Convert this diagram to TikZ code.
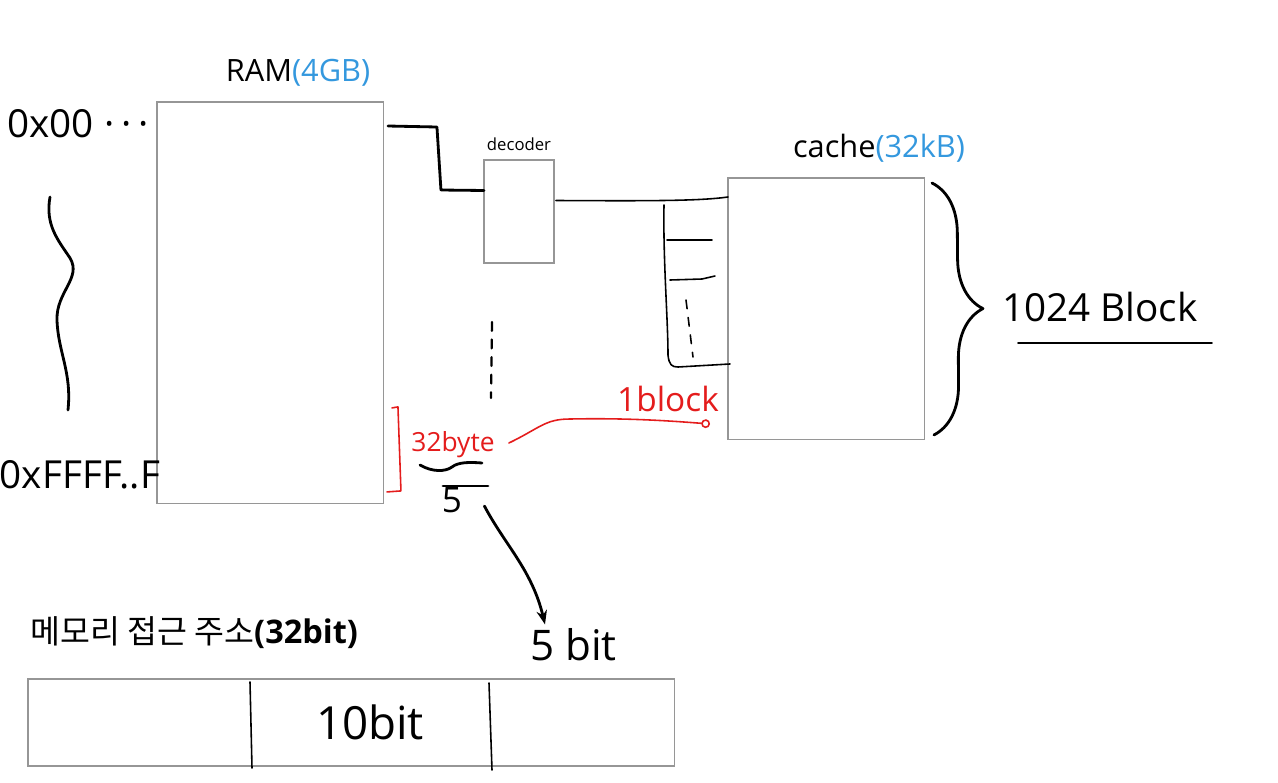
\documentclass[tikz,border=0pt]{standalone}
\usepackage{fontspec}
\setmainfont{Open Sans}
\newfontfamily\krfont{Noto Sans CJK KR}
\usetikzlibrary{positioning,decorations.pathreplacing,arrows.meta}
\definecolor{inkblue}{RGB}{52,152,222}
\definecolor{inkred}{RGB}{228,28,28}
\definecolor{boxgray}{RGB}{150,150,150}

\begin{document}
\begin{tikzpicture}[x=0.02cm,y=-0.02cm,
    box/.style={rectangle,draw=boxgray,line width=.6pt,inner sep=0pt,outer sep=0pt,anchor=north west},
    pen/.style={line width=1.6pt,line cap=round,line join=round},
    thinpen/.style={line width=.9pt,line cap=round,line join=round},
    redpen/.style={inkred,line width=.9pt,line cap=round,line join=round},
    hand/.style={inner sep=0pt,font=\fontsize{#1}{#1}\selectfont},
    boxtitle/.style={inner sep=0pt,font=\fontsize{17.5}{20}\selectfont}]
  \useasboundingbox (0,0) rectangle (1278,782);
  \node[box,minimum width=4.54cm,minimum height=8.04cm] (ram) at (157,102) {};
  \node[boxtitle] (ramlbl) at (298,73) {RAM\textcolor{inkblue}{(4GB)}};
  \node[hand=22] (first) at (78,124) {0x00\;·\,·\,·};
  \node[hand=22] (last) at (80,475) {0xFFFF..F};
  \draw[pen] (50,197) .. controls (45,225) and (58,240) .. (70,258) .. controls (82,278) and (56,292) .. (57,320) .. controls (58,352) and (72,372) .. (68,410);
  \node[box,minimum width=1.4cm,minimum height=2.06cm] (dec) at (484,160) {};
  \node[inner sep=0pt,font=\fontsize{9.5}{11}\selectfont,above=5pt of dec] (declbl) {decoder};
  \node[box,minimum width=3.94cm,minimum height=5.24cm] (cache) at (728,178) {};
  \node[boxtitle] (cachelbl) at (879,148) {cache\textcolor{inkblue}{(32kB)}};
  \draw[pen] ([shift={(4,24)}]ram.north east) -- ++(49,1) -- ++(4,63) -- ([shift={(0,-21)}]dec.west);
  \draw[thinpen] ([shift={(2,-11)}]dec.east) .. controls (650,201) and (700,201) .. ([shift={(0,-112)}]cache.west);
  \draw[thinpen] (664,205) .. controls (663,260) and (668,320) .. (668,355) .. controls (669,365) and (672,367) .. (678,367) -- ([shift={(2,55)}]cache.west);
  \draw[thinpen] (667,240) -- (712,240);
  \draw[thinpen] (670,280) -- (702,279) -- (715,276);
  \draw[thinpen,dash pattern=on 5pt off 5pt] (686,300) -- (693,357);
  \draw[pen,decorate,decoration={brace,amplitude=1cm}] ([shift={(7,5)}]cache.north east) -- ([shift={(9,-5)}]cache.south east);
  \node[hand=22] (nblocks) at (1100,307) {1024 Block};
  \draw[thinpen] (1018,343) -- (1212,343);
  \draw[pen,line width=1.3pt,dash pattern=on 5pt off 5pt] (492,322) -- (491,398);
  \draw[redpen] ([shift={(8,-96)}]ram.south east) -- ++(6,-1) -- ++(3,84) -- ++(-14,1);
  \node[hand=15,text=inkred] (b32) at (453,445) {32byte};
  \coordinate (blockend) at (710,424);
  \draw[redpen,-{Circle[open,length=5pt]}] ([shift={(14,-2)}]b32.east) .. controls (540,428) and (545,419) .. (570,419) .. controls (620,418) and (660,420) .. (blockend);
  \node[hand=19,text=inkred] (blk) at (668,399) {1block};
  \draw[pen] (420,465) .. controls (432,472) and (445,472) .. (452,467) .. controls (458,462) and (470,462) .. (482,463);
  \draw[pen] (443,486) -- (488,486);
  \node[hand=20] (five) at (452,500) {5};
  \node[hand=24,anchor=west] (fivebit) at (530,645) {5 bit};
  \draw[pen,-{Stealth[length=8pt]}] ([shift={(22,6)}]five.east) .. controls (505,545) and (532,570) .. ([shift={(15,-4)}]fivebit.north west);
  \node[inner sep=0pt,anchor=west] (addrlbl) at (30,633) {{\krfont\fontsize{18.5}{22}\selectfont 메모리 접근 주소}{\fontsize{18.5}{22}\selectfont\bfseries(32bit)}};
  \node[box,minimum width=12.94cm,minimum height=1.74cm] (addr) at (28,679) {};
  \draw[thinpen] ([shift={(222,3)}]addr.north west) -- ([shift={(224,2)}]addr.south west);
  \draw[thinpen] ([shift={(461,4)}]addr.north west) -- ([shift={(464,4)}]addr.south west);
  \node[hand=26] (mid) at (370,722) {10bit};
\end{tikzpicture}
\end{document}
